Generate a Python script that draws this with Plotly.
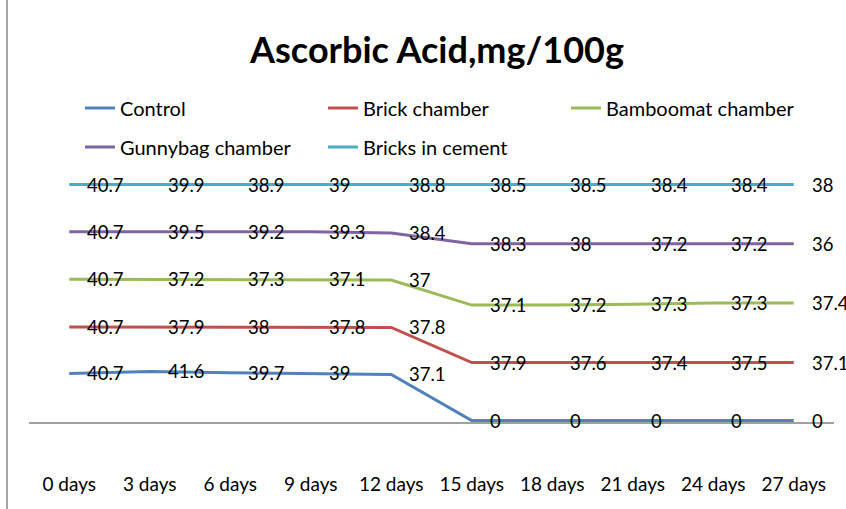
import numpy as np
import plotly.graph_objects as go

# ---------------- data ----------------
days = ["0 days", "3 days", "6 days", "9 days", "12 days",
        "15 days", "18 days", "21 days", "24 days", "27 days"]

series_names = ["Control", "Brick chamber", "Bamboomat chamber",
                "Gunnybag chamber", "Bricks in cement"]

# values printed as data labels
control_labels = [40.7, 41.6, 39.7, 39, 37.1, 0, 0, 0, 0, 0]
brick_labels = [40.7, 37.9, 38, 37.8, 37.8, 37.9, 37.6, 37.4, 37.5, 37.1]
bamboo_labels = [40.7, 37.2, 37.3, 37.1, 37, 37.1, 37.2, 37.3, 37.3, 37.4]
gunny_labels = [40.7, 39.5, 39.2, 39.3, 38.4, 38.3, 38, 37.2, 37.2, 36]
cement_labels = [40.7, 39.9, 38.9, 39, 38.8, 38.5, 38.5, 38.4, 38.4, 38]

# stacked-line increments as drawn in the picture
control_line = [40.7, 42.4, 41.3, 40.7, 39.8, 0, 0, 0, 0, 0]
brick_line = [40.1, 38.4, 39.5, 40.1, 40.5, 50.0, 50.0, 50.0, 50.0, 50.0]
bamboo_line = [41.0, 41.0, 41.0, 41.0, 40.9, 49.6, 49.6, 50.4, 51.3, 51.3]
gunny_line = [41.0, 41.0, 41.0, 41.0, 40.5, 52.8, 52.8, 52.0, 51.1, 51.1]
cement_line = [40.7, 40.7, 40.7, 40.7, 41.8, 51.1, 51.1, 51.1, 51.1, 51.1]

colors = ["#4F81BD", "#C0504D", "#9BBB59", "#8064A2", "#4BACC6"]

lines = [control_line, brick_line, bamboo_line, gunny_line, cement_line]
labels = [control_labels, brick_labels, bamboo_labels, gunny_labels, cement_labels]

FONT = "Lato"
x = np.arange(len(days))
stacked = np.cumsum(np.array(lines, dtype=float), axis=0)

fig = go.Figure()
for i, name in enumerate(series_names):
    fig.add_trace(go.Scatter(
        x=x, y=stacked[i], mode="lines", name=name,
        line=dict(color=colors[i], width=3),
        legend="legend" if i < 3 else "legend2",
    ))

annotations = []
for i in range(len(series_names)):
    for j in range(len(days)):
        v = labels[i][j]
        annotations.append(dict(
            x=x[j], y=stacked[i][j], xref="x", yref="y", text="%g" % v,
            showarrow=False, xanchor="left", yanchor="middle", xshift=16,
            font=dict(family=FONT, size=18.5, color="#000000"),
        ))

fig.update_layout(
    width=846, height=509,
    margin=dict(l=29, r=12, t=132, b=87),
    paper_bgcolor="white", plot_bgcolor="white",
    title=dict(text="<b>Ascorbic Acid,mg/100g</b>", x=(437 - 29) / 805, xref="paper",
               xanchor="center", y=1 - 50 / 509, yanchor="middle",
               font=dict(family=FONT, size=36, color="#000000")),
    showlegend=True,
    legend=dict(orientation="h", x=(80 - 29) / 805, xanchor="left",
                y=(422 - 108) / 290, yanchor="middle", entrywidth=198,
                font=dict(family=FONT, size=20, color="#000000"),
                bgcolor="rgba(0,0,0,0)"),
    legend2=dict(orientation="h", x=(80 - 29) / 805, xanchor="left",
                 y=(422 - 147) / 290, yanchor="middle", entrywidth=198,
                 font=dict(family=FONT, size=20, color="#000000"),
                 bgcolor="rgba(0,0,0,0)"),
    annotations=annotations,
    xaxis=dict(range=[-0.5, 9.5], tickvals=list(x), ticktext=days,
               showline=True, linecolor="#A0A0A0", linewidth=1.5,
               showgrid=False, zeroline=False, ticks="outside", ticklen=44,
               tickcolor="rgba(0,0,0,0)",
               tickfont=dict(family=FONT, size=19, color="#000000")),
    yaxis=dict(range=[-1.2, 248.8], visible=False, showgrid=False, zeroline=False),
    shapes=[dict(type="line", xref="paper", yref="paper",
                 x0=(7 - 29) / 805, x1=(7 - 29) / 805,
                 y0=(422 - 509) / 290, y1=422 / 290,
                 line=dict(color="#A6A6A6", width=2))],
)

fig.write_html("out.html", config={"displayModeBar": False},
               post_script="document.body.style.margin='0';")
